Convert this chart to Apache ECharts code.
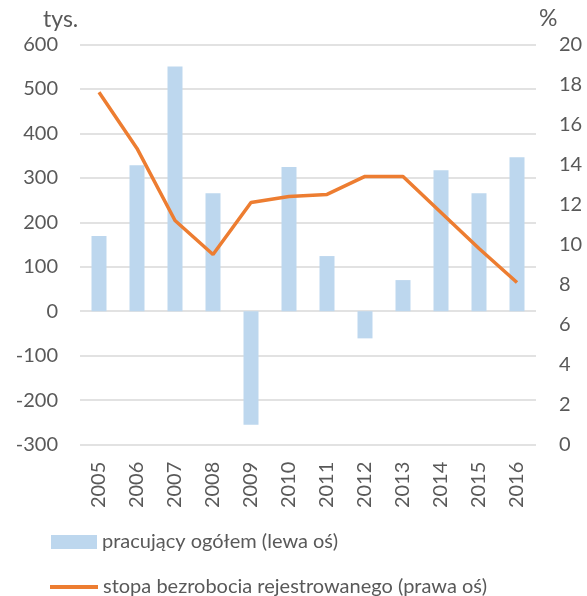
<!DOCTYPE html>
<html><head><meta charset="utf-8">
<script src="https://cdn.jsdelivr.net/npm/echarts@6/dist/echarts.min.js"></script>
<style>html,body{margin:0;padding:0;background:#fff}#c{width:587px;height:596px}</style>
</head><body><div id="c"></div>
<script>
var years = ['2005','2006','2007','2008','2009','2010','2011','2012','2013','2014','2015','2016'];
var employed = [169, 328, 550, 265, -255, 324, 124, -61, 70, 317, 265, 346];
var unemploymentRate = [17.6, 14.8, 11.2, 9.5, 12.1, 12.4, 12.5, 13.4, 13.4, 11.6, 9.8, 8.1];
var barName = 'pracujący ogółem (lewa oś)';
var lineName = 'stopa bezrobocia rejestrowanego (prawa oś)';
var font = 'Lato';
var grey = '#595959';
var fs = 20;
var chart = echarts.init(document.getElementById('c'));
chart.setOption({
  animation: false,
  textStyle: {fontFamily: font},
  grid: {left: 80, right: 51, top: 44.3, bottom: 151.3, containLabel: false},
  graphic: [
    {type: 'text', left: 43, top: 8, style: {text: 'tys.', font: '23px ' + font, fill: grey}},
    {type: 'text', left: 539, top: 7, style: {text: '%', font: '23px ' + font, fill: grey}}
  ],
  legend: [
    {left: 51, top: 532, itemWidth: 46, itemHeight: 14, itemGap: 10, padding: 0,
     textStyle: {fontSize: fs, color: grey, fontFamily: font},
     data: [{name: barName, icon: 'rect'}]},
    {left: 50, top: 577, itemWidth: 48, itemHeight: 4, itemGap: 10, padding: 0,
     textStyle: {fontSize: fs, color: grey, fontFamily: font},
     data: [{name: lineName, icon: 'rect'}]}
  ],
  xAxis: {
    type: 'category', data: years,
    axisLine: {show: false}, axisTick: {show: false},
    axisLabel: {rotate: 90, margin: 17, fontSize: fs, color: grey, fontFamily: font}
  },
  yAxis: [
    {type: 'value', min: -300, max: 600, interval: 100,
     axisLine: {show: false}, axisTick: {show: false},
     axisLabel: {margin: 22, fontSize: fs, color: grey, fontFamily: font},
     splitLine: {lineStyle: {color: '#D9D9D9', width: 1.5}}},
    {type: 'value', min: 0, max: 20, interval: 2,
     axisLine: {show: false}, axisTick: {show: false},
     axisLabel: {margin: 23, fontSize: fs, color: grey, fontFamily: font},
     splitLine: {show: false}}
  ],
  series: [
    {name: barName, type: 'bar', data: employed, yAxisIndex: 0, barWidth: 15,
     itemStyle: {color: '#BDD7EE'}},
    {name: lineName, type: 'line', data: unemploymentRate, yAxisIndex: 1,
     symbol: 'none', lineStyle: {color: '#ED7D31', width: 3.5},
     itemStyle: {color: '#ED7D31'}}
  ]
});
</script></body></html>
